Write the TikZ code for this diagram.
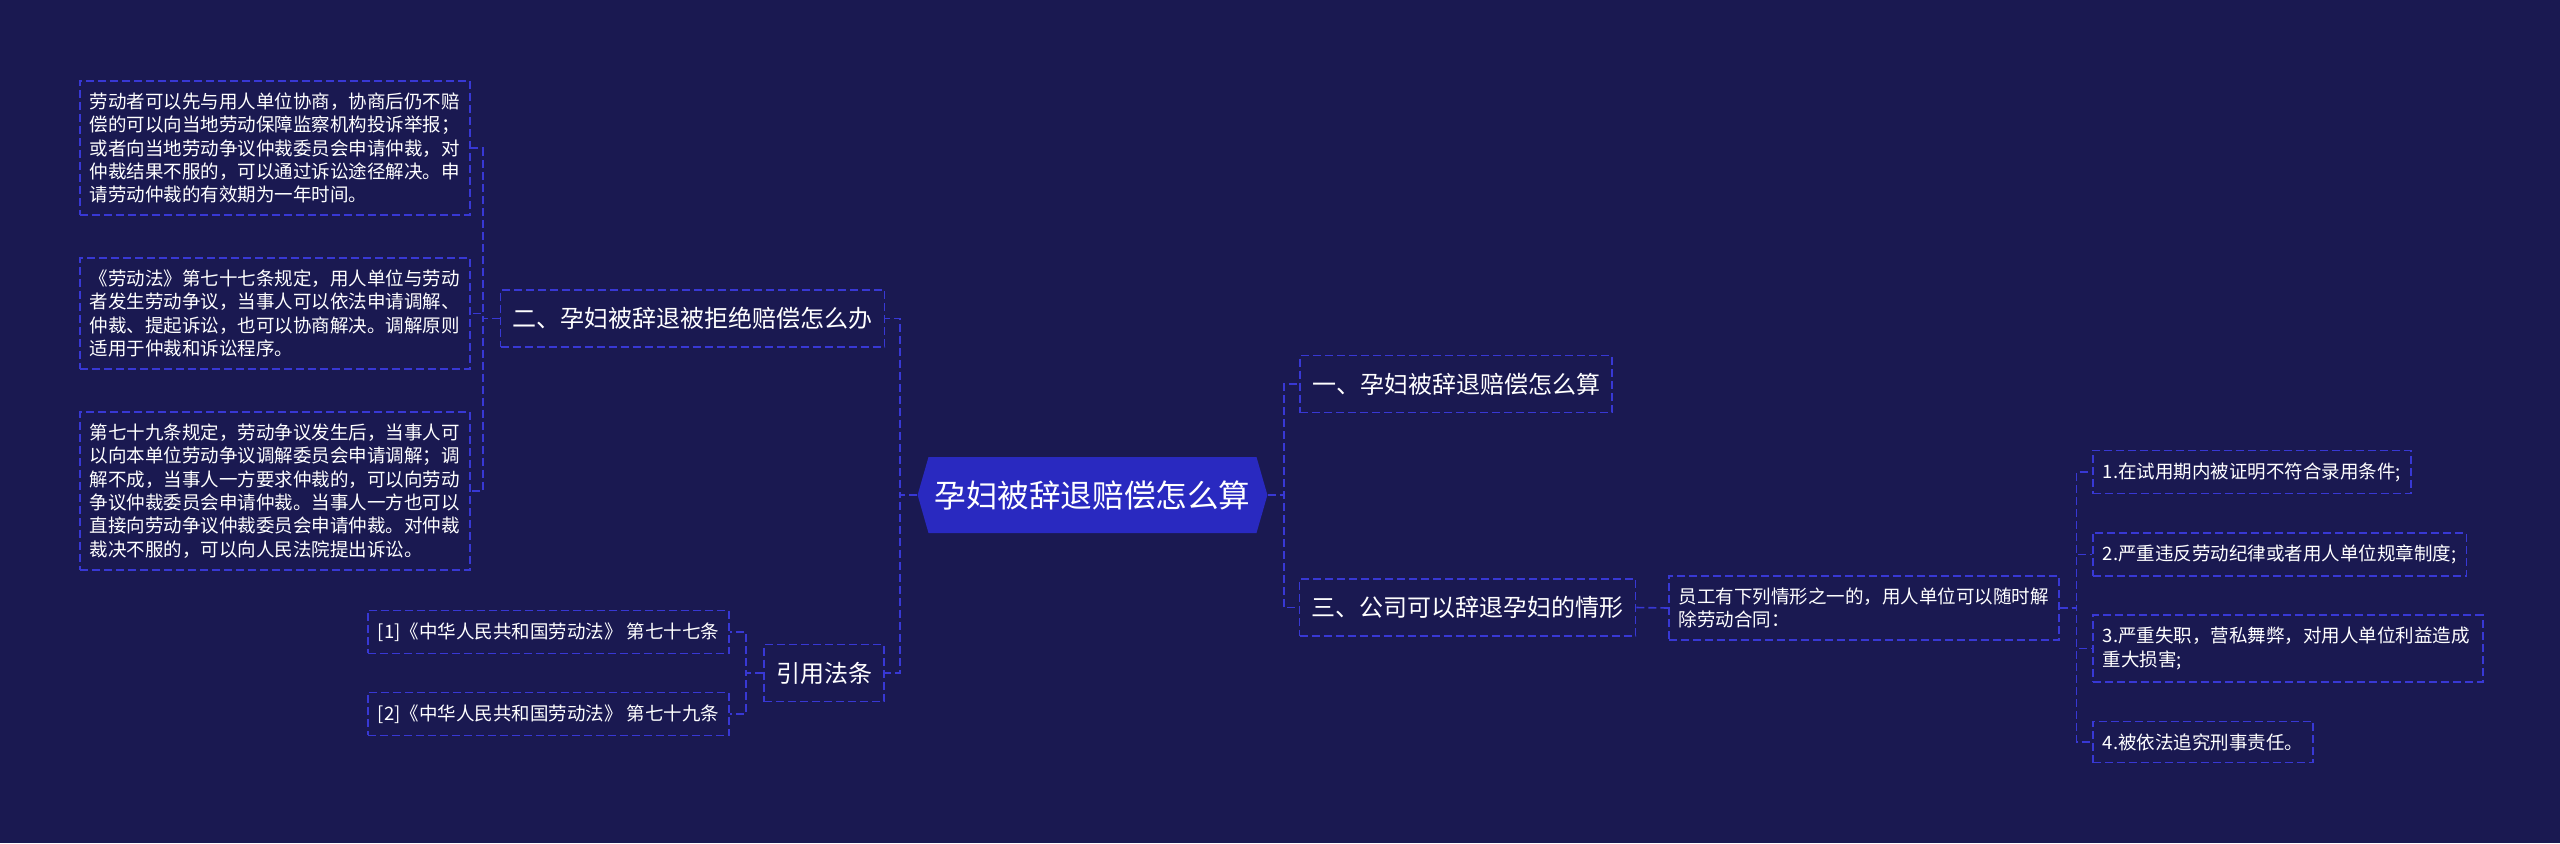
\documentclass[tikz,border=0pt]{standalone}
\usepackage{fontspec}
\setmainfont{Noto Sans CJK SC}
\usetikzlibrary{shapes.symbols}
\definecolor{bgnavy}{HTML}{1A1951}
\definecolor{rootblue}{HTML}{2929C0}
\definecolor{dashblue}{HTML}{3838D4}

\begin{document}
\begin{tikzpicture}[
  x=0.5pt, y=-0.5pt,
  root/.style={signal, signal to=west and east, signal pointer angle=148,
               fill=rootblue, text=white, inner xsep=3pt, minimum height=38pt,
               font=\fontsize{15.8}{19}\selectfont},
  branch/.style={draw=dashblue, line width=0.8pt, dash pattern=on 4pt off 2pt,
                 text=white, inner xsep=6pt, minimum height=28.5pt,
                 font=\fontsize{12}{14}\selectfont},
  leaf/.style={draw=dashblue, line width=0.8pt, dash pattern=on 4pt off 2pt,
               text=white, align=left, inner xsep=5pt, inner ysep=6pt,
               font=\fontsize{9.25}{11.65}\selectfont},
  wide/.style={leaf, text width=185pt},
  link/.style={draw=dashblue, line width=0.8pt, dash pattern=on 4pt off 2pt}
]
\fill[bgnavy] (0,0) rectangle (2560,843);

\node[root] (root) at (1092.5,495) {孕妇被辞退赔偿怎么算};
\node[branch] (er) at (692.5,318.5) {二、孕妇被辞退被拒绝赔偿怎么办};
\node[branch] (cite) at (824,673) {引用法条};
\node[branch] (yi) at (1456,384) {一、孕妇被辞退赔偿怎么算};
\node[branch] (san) at (1467.5,607.5) {三、公司可以辞退孕妇的情形};

\node[wide, anchor=west] (er1) at (79,148) {劳动者可以先与用人单位协商，协商后仍不赔\\偿的可以向当地劳动保障监察机构投诉举报；\\或者向当地劳动争议仲裁委员会申请仲裁，对\\仲裁结果不服的，可以通过诉讼途径解决。申\\请劳动仲裁的有效期为一年时间。};
\node[wide, anchor=west] (er2) at (79,313.5) {《劳动法》第七十七条规定，用人单位与劳动\\者发生劳动争议，当事人可以依法申请调解、\\仲裁、提起诉讼，也可以协商解决。调解原则\\适用于仲裁和诉讼程序。};
\node[wide, anchor=west] (er3) at (79,491) {第七十九条规定，劳动争议发生后，当事人可\\以向本单位劳动争议调解委员会申请调解；调\\解不成，当事人一方要求仲裁的，可以向劳动\\争议仲裁委员会申请仲裁。当事人一方也可以\\直接向劳动争议仲裁委员会申请仲裁。对仲裁\\裁决不服的，可以向人民法院提出诉讼。};

\node[leaf] (law1) at (548.5,632) {[1]《中华人民共和国劳动法》 第七十七条};
\node[leaf] (law2) at (548.5,714) {[2]《中华人民共和国劳动法》 第七十九条};

\node[wide, anchor=west] (rule) at (1668,608) {员工有下列情形之一的，用人单位可以随时解\\除劳动合同：};
\node[leaf, anchor=west] (case1) at (2092,472) {1.在试用期内被证明不符合录用条件;};
\node[leaf, anchor=west] (case2) at (2092,554.5) {2.严重违反劳动纪律或者用人单位规章制度;};
\node[wide, anchor=west] (case3) at (2092,648.5) {3.严重失职，营私舞弊，对用人单位利益造成\\重大损害;};
\node[leaf, anchor=west] (case4) at (2092,742) {4.被依法追究刑事责任。};

\draw[link] (root.west) -- ++(-17,0) |- (er.east);
\draw[link] (root.west) -- ++(-17,0) |- (cite.east);
\draw[link] (er.west) -- ++(-17,0) |- (er1.east);
\draw[link] (er.west) -- ++(-17,0) |- (er2.east);
\draw[link] (er.west) -- ++(-17,0) |- (er3.east);
\draw[link] (cite.west) -- ++(-17,0) |- (law1.east);
\draw[link] (cite.west) -- ++(-17,0) |- (law2.east);
\draw[link] (root.east) -- ++(16,0) |- (yi.west);
\draw[link] (root.east) -- ++(16,0) |- (san.west);
\draw[link] (san.east) -- (rule.west);
\draw[link] (rule.east) -- ++(17,0) |- (case1.west);
\draw[link] (rule.east) -- ++(17,0) |- (case2.west);
\draw[link] (rule.east) -- ++(17,0) |- (case3.west);
\draw[link] (rule.east) -- ++(17,0) |- (case4.west);
\end{tikzpicture}
\end{document}
